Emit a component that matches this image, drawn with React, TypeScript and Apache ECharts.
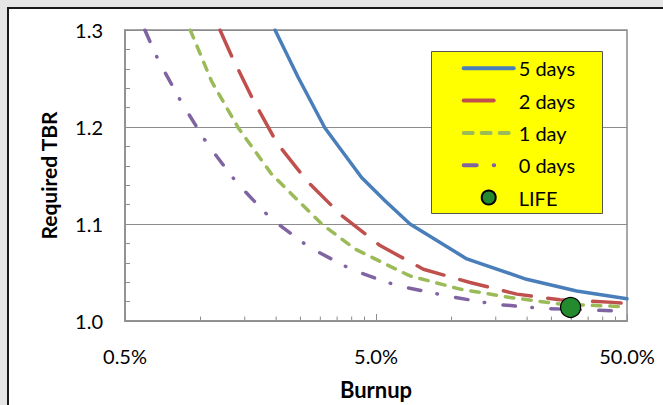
import React, { useEffect, useRef } from "react";
import * as echarts from "echarts";

// Burnup (%) and required TBR for each heating scenario
const BLUE_X = [1.98, 2.45, 3.13, 4.38, 5.43, 6.83, 11.5, 19.9, 31.5, 50];
const BLUE_Y = [1.3, 1.251, 1.199, 1.148, 1.124, 1.1, 1.064, 1.043, 1.031, 1.023];

const RED_X = [1.195, 1.33, 1.62, 2.01, 2.65, 3.65, 5.19, 7.72, 11.85, 18.2, 27, 44, 50];
const RED_Y = [1.3, 1.273, 1.228, 1.184, 1.1445, 1.1086, 1.0778, 1.0534, 1.0397, 1.0277, 1.0219, 1.0192, 1.018];

const GREEN_X = [0.91, 1.107, 1.414, 1.92, 3.04, 4.12, 5.43, 6.83, 10.8, 17.1, 27, 50];
const GREEN_Y = [1.3, 1.247, 1.199, 1.1513, 1.0999, 1.0743, 1.0589, 1.0465, 1.0329, 1.0243, 1.0175, 1.0147];

const PURPLE_X = [0.6, 0.679, 0.841, 1.067, 1.4, 1.9, 2.71, 4.02, 5.27, 6.13, 9.5, 14.66, 22.9, 35.6, 50];
const PURPLE_Y = [1.3, 1.2688, 1.225, 1.182, 1.142, 1.106, 1.076, 1.0527, 1.0418, 1.0363, 1.026, 1.0175, 1.013, 1.0113, 1.01];

const LIFE_X = [29.8];
const LIFE_Y = [1.014];

const X_MIN = 0.5; // %
const X_MAX = 50; // %
const X_MINOR_TICKS = [1, 1.5, 2, 2.5, 3, 3.5, 4, 4.5, 10, 15, 20, 25, 30, 35, 40, 45];
const LINE_NAMES = ["5 days", "2 days", "1 day", "0 days"];
const POINT_NAME = "LIFE";

const lx = (v: number) => Math.log10(v / X_MIN);
const pairs = (xs: number[], ys: number[]) => xs.map((x, i) => [lx(x), ys[i]]);

const FONT = "Lato";
const AXIS_GRAY = "#8c8c8c";

export default function App() {
  const ref = useRef<HTMLDivElement>(null);
  useEffect(() => {
    if (!ref.current) return;
    const chart = echarts.init(ref.current, null, { renderer: "svg" });
    const lineBase = (name: string, xs: number[], ys: number[], color: string, dash: any) => ({
      name,
      type: "line",
      data: pairs(xs, ys),
      symbol: "none",
      showSymbol: false,
      clip: true,
      z: 3,
      lineStyle: { color, width: 3.5, type: dash, cap: "round", join: "round" },
      itemStyle: { color },
    });
    const legendDash: Record<string, any> = {
      "5 days": "solid",
      "2 days": [30, 30],
      "1 day": [9, 9],
      "0 days": [13, 17, 0.5, 30],
    };
    chart.setOption({
      animation: false,
      textStyle: { fontFamily: FONT },
      grid: {
        show: true,
        left: 125,
        top: 30,
        right: 36,
        bottom: 83,
        borderColor: AXIS_GRAY,
        borderWidth: 1.5,
        backgroundColor: "transparent",
      },
      xAxis: {
        type: "value",
        min: 0,
        max: lx(X_MAX),
        interval: 1,
        name: "Burnup",
        nameLocation: "middle",
        nameGap: 57,
        nameTextStyle: { fontFamily: FONT, fontWeight: "bold", fontSize: 22, color: "#000" },
        axisLine: { show: true, lineStyle: { color: AXIS_GRAY, width: 1.5 } },
        axisTick: { show: true, inside: true, length: 7, lineStyle: { color: AXIS_GRAY } },
        splitLine: { show: false },
        axisLabel: {
          margin: 25,
          fontFamily: FONT,
          fontSize: 20,
          color: "#000",
          formatter: (v: number) => (X_MIN * Math.pow(10, v)).toFixed(1) + "%",
        },
      },
      yAxis: {
        type: "value",
        min: 1.0,
        max: 1.3,
        interval: 0.1,
        name: "Required TBR",
        nameLocation: "middle",
        nameGap: 66,
        nameTextStyle: { fontFamily: FONT, fontWeight: "bold", fontSize: 21, color: "#000" },
        axisLine: { show: true, lineStyle: { color: AXIS_GRAY, width: 1.5 } },
        axisTick: { show: true, inside: true, length: 5, lineStyle: { color: AXIS_GRAY } },
        minorTick: { show: true, splitNumber: 5, length: 5, lineStyle: { color: AXIS_GRAY, width: 1 } },
        splitLine: { show: true, lineStyle: { color: AXIS_GRAY, width: 1.2 } },
        axisLabel: {
          margin: 22,
          fontFamily: FONT,
          fontSize: 20,
          color: "#000",
          formatter: (v: number) => v.toFixed(1),
        },
      },
      graphic: [
        {
          type: "rect",
          z: 2,
          shape: { x: 431.5, y: 51.5, width: 171, height: 162 },
          style: { fill: "#ffff00", stroke: "#555555", lineWidth: 1 },
          silent: true,
        },
      ],
      legend: {
        data: [
          ...LINE_NAMES.map((n) => ({
            name: n,
            itemStyle: { opacity: 0, color: "transparent", borderWidth: 0 },
            lineStyle: { width: 4, cap: "round", type: legendDash[n] },
          })),
          { name: POINT_NAME },
        ],
        orient: "vertical",
        left: 461.7,
        top: 58.3,
        padding: 0,
        itemWidth: 50,
        itemHeight: 14,
        itemGap: 12.3,
        z: 5,
        lineStyle: { width: 4, cap: "round" },
        textStyle: { fontFamily: FONT, fontSize: 20, color: "#000", lineHeight: 20 },
        selectedMode: false,
      },
      series: [
        {
          type: "custom",
          name: "minorTicks",
          silent: true,
          clip: false,
          z: 2,
          data: X_MINOR_TICKS.map((v) => [lx(v)]),
          renderItem: (params: any, api: any) => {
            const p = api.coord([api.value(0), 1.0]);
            return {
              type: "line",
              shape: { x1: p[0], y1: p[1], x2: p[0], y2: p[1] - 4.5 },
              style: { stroke: AXIS_GRAY, lineWidth: 1 },
            };
          },
        },
        lineBase(LINE_NAMES[0], BLUE_X, BLUE_Y, "#4a7ebb", "solid"),
        lineBase(LINE_NAMES[1], RED_X, RED_Y, "#c0504d", [28.5, 16.5]),
        lineBase(LINE_NAMES[2], GREEN_X, GREEN_Y, "#9bbb59", [8.5, 9]),
        lineBase(LINE_NAMES[3], PURPLE_X, PURPLE_Y, "#8064a2", [12.5, 16.5, 0.5, 18.5]),
        {
          name: POINT_NAME,
          type: "scatter",
          data: pairs(LIFE_X, LIFE_Y),
          symbol: "circle",
          symbolSize: 20,
          z: 4,
          itemStyle: { color: "#248a2e", opacity: 1, borderColor: "#000", borderWidth: 1.2 },
        },
      ],
    });
    return () => chart.dispose();
  }, []);

  return (
    <div style={{ position: "fixed", left: 0, top: 0, width: 663, height: 405, background: "#e6e6e6", overflow: "hidden" }}>
      <div
        style={{
          position: "absolute",
          left: 7,
          top: 7,
          width: 700,
          height: 420,
          background: "#ffffff",
          borderLeft: "2px solid #1a1a1a",
          borderTop: "2px solid #1a1a1a",
          boxSizing: "border-box",
        }}
      />
      <div ref={ref} style={{ position: "absolute", left: 0, top: 0, width: 663, height: 405 }} />
    </div>
  );
}
